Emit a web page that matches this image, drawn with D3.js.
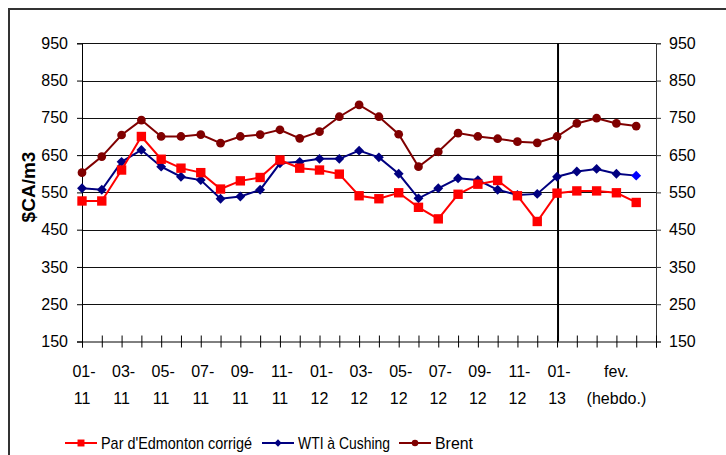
<!DOCTYPE html>
<html>
<head>
<meta charset="utf-8">
<script src="https://cdn.jsdelivr.net/npm/d3@7"></script>
<style>
  body { margin: 0; background: #fff; }
  svg text { font-family: "Liberation Sans", Arial, sans-serif; }
</style>
</head>
<body>
<svg id="chart" width="726" height="455"></svg>
<script>
// months shown on the axis, then the weekly February points
const months = ["01-11", "02-11", "03-11", "04-11", "05-11", "06-11", "07-11", "08-11", "09-11", "10-11", "11-11", "12-11",
                "01-12", "02-12", "03-12", "04-12", "05-12", "06-12", "07-12", "08-12", "09-12", "10-12", "11-12", "12-12", "01-13"]
const weeks = ["fev. s1", "fev. s2", "fev. s3", "fev. s4"]
const weekLabel = ["fev.", "(hebdo.)"]
const yTicks = [150, 250, 350, 450, 550, 650, 750, 850, 950]

const edmonton = [527, 527, 610, 700, 639, 615, 603, 559, 581, 590, 637, 615,
                  610, 599, 541, 533, 549, 510, 479, 545, 572, 582, 541, 472,
                  548, 554, 554, 549, 523]
const wti = [561, 557, 632, 664, 619, 592, 583, 533, 539, 557, 628, 632,
             640, 640, 662, 644, 600, 534, 561, 588, 583, 557, 543, 546,
             592, 606, 613, 600, 595]
const brent = [603, 646, 704, 744, 700, 700, 705, 682, 700, 705, 718, 695,
               713, 753, 785, 753, 706, 619, 659, 709, 700, 694, 686, 683,
               700, 735, 749, 735, 728]

const categories = months.concat(weeks)

const svg = d3.select("#chart")

const plotLeft = 82, plotRight = 656, plotTop = 43.3, plotBottom = 341.5

const x = d3.scaleLinear().domain([0, categories.length]).range([plotLeft, plotRight])
const y = d3.scaleLinear().domain([150, 950]).range([plotBottom, plotTop])

// chart frame
svg.append("rect")
    .attr("x", 9).attr("y", 9)
    .attr("width", 740).attr("height", 470)
    .style("fill", "none")
    .style("stroke", "#333")
    .style("stroke-width", 2)

// gridlines
svg.append("g")
    .selectAll("line")
    .data(yTicks.filter(d => d > 150))
    .join("line")
        .attr("x1", plotLeft).attr("x2", plotRight)
        .attr("y1", d => Math.round(y(d)) + 0.5)
        .attr("y2", d => Math.round(y(d)) + 0.5)
        .style("stroke", "#111")
        .style("stroke-width", 1)

// left axis
const yLeft = svg.append("g")
    .attr("transform", `translate(${plotLeft},0)`)
    .call(d3.axisLeft(y).tickValues(yTicks).tickSize(5).tickPadding(9).tickFormat(d3.format("d")))
yLeft.selectAll("text").style("font-size", "16px").style("fill", "#000")
yLeft.selectAll("line, path").style("stroke", "#000")

// right axis
const yRight = svg.append("g")
    .attr("transform", `translate(${plotRight},0)`)
    .call(d3.axisRight(y).tickValues(yTicks).tickSize(5).tickPadding(8).tickFormat(d3.format("d")))
yRight.selectAll("text").style("font-size", "16px").style("fill", "#000")
yRight.selectAll("line, path").style("stroke", "#333")

// bottom axis, ticks crossing the line
const xAxis = svg.append("g")
    .attr("transform", `translate(0,${plotBottom})`)
    .call(d3.axisBottom(x).tickValues(d3.range(0, categories.length + 1)).tickSize(6).tickFormat(""))
xAxis.selectAll(".tick line").attr("y1", -6)
xAxis.selectAll("line, path").style("stroke", "#000")

// month labels every two months
const labelled = months.map((m, i) => ({ i: i, parts: [m.slice(0, 3), m.slice(3)] }))
    .filter(d => d.i % 2 === 0)
labelled.push({ i: months.length + 2, parts: weekLabel })

const xl = svg.append("g")
    .selectAll("text")
    .data(labelled)
    .join("text")
        .attr("x", d => x(d.i))
        .attr("y", 377)
        .attr("text-anchor", "middle")
        .style("font-size", "16px")
xl.append("tspan").attr("x", d => x(d.i) + (d.i < months.length ? 2 : 0)).text(d => d.parts[0])
xl.append("tspan").attr("x", d => x(d.i)).attr("dy", 27).text(d => d.parts[1])

// monthly / weekly separator
svg.append("line")
    .attr("x1", x(months.length - 1) + 1).attr("x2", x(months.length - 1) + 1)
    .attr("y1", plotTop).attr("y2", plotBottom)
    .style("stroke", "#000")
    .style("stroke-width", 2)

// y axis title
svg.append("text")
    .attr("transform", "translate(35,187) rotate(-90)")
    .attr("text-anchor", "middle")
    .style("font-size", "19px")
    .style("font-weight", "bold")
    .text("$CA/m3")

const series = [
    { name: "Par d'Edmonton corrigé", values: edmonton, color: "#ff0000", marker: "square", textWidth: 151 },
    { name: "WTI à Cushing", values: wti, color: "#000080", marker: "diamond", textWidth: 92 },
    { name: "Brent", values: brent, color: "#800000", marker: "circle", textWidth: 38 }
]

const symbols = {
    square: d3.symbolSquare,
    diamond: d3.symbolDiamond2,
    circle: d3.symbolCircle
}
const sizes = { square: 88, diamond: 62, circle: 60 }

const line = d3.line()
    .x((d, i) => x(i))
    .y(d => y(d))

// draw the brent first so the others sit on top
series.slice().reverse().forEach(s => {
    svg.append("path")
        .datum(s.values)
        .attr("d", line)
        .style("fill", "none")
        .style("stroke", s.color)
        .style("stroke-width", 2)

    svg.append("g")
        .selectAll("path")
        .data(s.values)
        .join("path")
            .attr("transform", (d, i) => `translate(${x(i)},${y(d)})`)
            .attr("d", d3.symbol(symbols[s.marker], sizes[s.marker]))
            .style("fill", (d, i) => (s.marker === "diamond" && i === s.values.length - 1) ? "#0000ff" : s.color)
})

// legend
const legendX = [65, 262, 399]
const legend = svg.append("g")
    .selectAll("g")
    .data(series)
    .join("g")
        .attr("transform", (d, i) => `translate(${legendX[i]},443)`)

legend.append("line")
    .attr("x1", 0).attr("x2", 32)
    .style("stroke", d => d.color)
    .style("stroke-width", 2)

legend.append("path")
    .attr("transform", "translate(16,0)")
    .attr("d", d => d3.symbol(symbols[d.marker], sizes[d.marker] * 0.55)())
    .style("fill", d => d.color)

legend.append("text")
    .attr("x", 36)
    .attr("y", 6)
    .attr("textLength", d => d.textWidth)
    .attr("lengthAdjust", "spacingAndGlyphs")
    .style("font-size", "17px")
    .text(d => d.name)
</script>
</body>
</html>
